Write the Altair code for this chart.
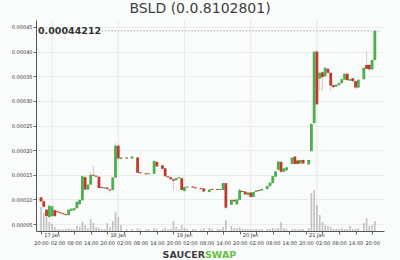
import altair as alt
import pandas as pd

TITLE = "BSLD (0.0.8102801)"
LAST_PRICE = 0.00044212
LAST_LABEL = "0.00044212"

# hours since 16 Jan 20:00 ; prices in units of 1e-5
HOUR = [0, 1, 2, 3, 4, 5, 6, 7, 8, 9, 10, 11, 12, 13, 14, 15, 16, 17, 18, 19,
        20, 21, 22, 23, 24, 25, 26, 27, 28, 29, 31, 33, 35, 36, 38, 39, 41, 42, 44, 45,
        46, 47, 48, 49, 50, 51, 52, 53, 55, 56, 58, 59, 61, 62, 64, 65, 66, 67, 69, 70,
        71, 72, 73, 74, 75, 76, 77, 78, 79, 80, 82, 83, 84, 85, 86, 87, 88, 89, 91, 92,
        93, 94, 95, 97, 98, 99, 100, 101, 102, 103, 104, 105, 106, 107, 108, 109, 110, 111, 112, 113,
        114, 115, 117, 118, 119, 120, 121]
OPEN = [10.4, 9.6, 7.9, 6.4, 6.6, 7.8, 7.6, 7.4, 7.2, 7.0, 6.8, 7.7, 7.8, 8.2, 9.0, 9.8, 14.5, 12.0, 13.0, 15.0,
        14.8, 14.6, 12.5, 12.2, 12.4, 12.0, 11.9, 14.4, 20.9, 18.2, 18.5, 18.3, 18.5, 15.5, 15.3, 15.1, 15.2, 17.6, 16.9, 16.3,
        14.7, 14.5, 14.1, 13.9, 14.3, 14.3, 11.7, 12.4, 12.6, 12.45, 12.3, 12.2, 11.5, 12.1, 12.1, 11.9, 11.9, 13.3, 8.9, 9.9,
        9.0, 9.9, 11.7, 11.6, 10.9, 11.4, 10.5, 11.5, 11.9, 11.8, 12.1, 12.7, 13.3, 14.6, 16.0, 17.6, 15.6, 15.9, 17.2, 18.7,
        17.9, 17.3, 18.0, 17.1, 19.8, 25.5, 40.0, 34.5, 35.8, 35.0, 36.5, 35.7, 33.2, 32.9, 33.2, 33.6, 34.3, 35.5, 34.1, 34.6,
        34.0, 32.7, 34.4, 37.3, 37.3, 36.4, 38.3]
HIGH = [10.7, 9.8, 8.1, 9.0, 8.8, 8.0, 7.8, 7.5, 7.3, 7.1, 8.0, 8.2, 8.3, 9.6, 10.0, 15.0, 14.8, 13.2, 15.5, 16.8,
        15.0, 14.7, 12.6, 12.5, 12.5, 12.1, 14.6, 21.5, 21.2, 18.6, 18.6, 18.8, 18.6, 15.6, 15.4, 15.4, 17.9, 17.7, 17.0, 16.4,
        14.8, 14.6, 14.2, 14.4, 14.6, 14.4, 12.6, 12.7, 12.7, 12.5, 12.4, 12.3, 12.1, 12.2, 12.2, 12.1, 13.4, 13.4, 10.0, 10.0,
        10.1, 12.3, 11.8, 11.7, 11.5, 11.5, 11.6, 11.9, 12.0, 12.3, 12.8, 13.5, 14.8, 15.8, 17.8, 17.8, 16.4, 16.6, 18.6, 18.8,
        18.0, 18.1, 18.1, 18.1, 25.5, 40.2, 40.4, 35.9, 36.0, 36.9, 36.7, 35.8, 33.3, 33.4, 33.7, 34.5, 35.6, 35.6, 34.5, 34.7,
        34.1, 34.4, 36.9, 40.0, 37.4, 38.4, 44.3]
LOW = [9.4, 8.3, 6.2, 6.2, 6.4, 6.4, 7.3, 7.1, 6.9, 6.7, 6.7, 7.6, 7.7, 8.1, 8.9, 9.7, 11.8, 11.9, 12.9, 14.7,
       14.5, 12.2, 12.2, 12.1, 12.0, 11.4, 11.8, 14.3, 18.0, 18.1, 18.2, 18.2, 15.3, 15.2, 15.0, 15.0, 15.1, 16.6, 16.1, 14.6,
       14.4, 14.0, 11.8, 13.8, 14.2, 11.8, 11.6, 12.3, 12.3, 12.2, 12.0, 11.5, 11.4, 11.9, 11.9, 11.8, 11.8, 8.0, 8.8, 9.5,
       8.9, 9.8, 11.4, 10.9, 10.8, 10.4, 10.4, 11.4, 11.6, 11.7, 12.0, 12.6, 13.2, 14.5, 15.9, 15.3, 15.5, 15.8, 17.1, 17.1,
       17.1, 17.2, 17.2, 17.0, 19.7, 25.3, 29.2, 32.0, 32.0, 34.8, 35.5, 32.0, 32.5, 32.8, 33.1, 33.5, 34.2, 34.1, 34.0, 33.9,
       32.3, 32.5, 34.3, 36.4, 36.0, 36.2, 38.2]
CLOSE = [9.6, 8.5, 6.6, 8.7, 8.6, 6.6, 7.4, 7.2, 7.0, 6.8, 7.9, 8.1, 8.2, 9.5, 9.9, 14.7, 12.0, 13.0, 15.0, 14.8,
         14.6, 12.3, 12.3, 12.4, 12.1, 11.8, 14.4, 20.9, 18.3, 18.5, 18.3, 18.7, 15.4, 15.3, 15.1, 15.3, 17.8, 16.7, 16.2, 14.7,
         14.5, 14.1, 13.8, 14.3, 14.5, 11.9, 12.5, 12.6, 12.4, 12.25, 12.1, 11.6, 12.0, 11.9, 11.9, 12.1, 13.3, 8.3, 9.9, 9.6,
         10.0, 11.9, 11.5, 11.0, 11.4, 10.5, 11.5, 11.8, 11.7, 12.1, 12.7, 13.4, 14.7, 15.7, 17.7, 15.6, 16.3, 16.5, 18.5, 17.2,
         17.2, 18.0, 17.3, 18.0, 25.3, 40.0, 29.3, 35.7, 34.8, 36.7, 35.7, 33.1, 32.8, 33.3, 33.6, 34.4, 35.5, 34.2, 34.4, 34.0,
         32.7, 34.3, 36.7, 36.5, 36.4, 38.3, 44.212]
VOLUME = [24, 18, 13, 9, 7, 4, 2, 1.5, 1.5, 2, 3, 2, 2, 5, 4, 9, 6, 3, 12, 8,
          4, 3, 2, 2, 8, 4, 10, 19, 14, 6, 2, 2, 3, 1.5, 1.5, 2, 3, 2, 2, 3,
          1.5, 2, 10, 4, 2, 6, 3, 2, 2, 1.5, 1.5, 3, 3, 2, 2, 2, 4, 11, 5, 3,
          3, 4, 2, 2, 2, 2, 1.5, 2, 1.5, 2, 2, 2, 3, 2, 3, 9, 3, 2, 2, 2,
          1.5, 2, 2, 3, 38, 41, 26, 16, 9, 6, 5, 4, 2, 2, 2, 3, 2, 2, 5, 2,
          2, 3, 8, 13, 5, 6, 10]

DAY_HOURS = [4, 28, 52, 76, 100]
DAY_LABELS = ["17 Jan", "18 Jan", "19 Jan", "20 Jan", "21 Jan"]
TICK_HOURS = [0, 6, 12, 18, 24, 30, 36, 42, 48, 54, 60, 66, 72, 78, 84, 90, 96, 102, 108, 114, 120]
TICK_LABELS = ["20:00", "02:00", "08:00", "14:00", "20:00", "02:00", "08:00", "14:00", "20:00", "02:00",
               "08:00", "14:00", "20:00", "02:00", "08:00", "14:00", "20:00", "02:00", "08:00", "14:00", "20:00"]
PRICE_TICKS = [0.00005, 0.0001, 0.00015, 0.0002, 0.00025, 0.0003, 0.00035, 0.0004, 0.00045]

GREEN = "#4cae4c"
RED = "#c0392b"
BG = "#f9fcfa"

df = pd.DataFrame({"h": HOUR, "open": OPEN, "high": HIGH, "low": LOW, "close": CLOSE, "vol": VOLUME})
for c in ["open", "high", "low", "close"]:
    df[c] = df[c] * 1e-5
df["dir"] = ["up" if c >= o else "down" for o, c in zip(df["open"], df["close"])]

days = pd.DataFrame({"h": DAY_HOURS, "label": DAY_LABELS})
last = pd.DataFrame({"p": [LAST_PRICE], "label": [LAST_LABEL]})
one = pd.DataFrame({"a": [0]})

W, H = 348, 211
xs = alt.Scale(domain=[0, 122.5], nice=False, zero=False)
ys = alt.Scale(domain=[0.0000358, 0.0004642], nice=False, zero=False)

label_arr = "[" + ",".join("'%s'" % t for t in TICK_LABELS) + "]"
xaxis = alt.Axis(values=TICK_HOURS, labelExpr=label_arr + "[round(datum.value/6)]",
                 title=None, grid=False, labelFontSize=5, labelColor="#333", tickSize=3,
                 tickColor="#666", domainColor="#555", labelPadding=6, labelFlush=False,
                 labelOverlap=False)
yaxis = alt.Axis(values=PRICE_TICKS, format=".5f", title=None, labelFontSize=5, labelColor="#333",
                 tickSize=3, tickColor="#666", domainColor="#555", labelPadding=1,
                 grid=True, gridColor="#e6e8e7", gridWidth=0.8)


def X(field):
    return alt.X(field, scale=xs, axis=xaxis)


def Y(field):
    return alt.Y(field, scale=ys, axis=yaxis)


vgrid = alt.Chart(days).mark_rule(color="#e3e5e4", strokeWidth=0.8).encode(
    x=X("h:Q"), y=alt.value(0), y2=alt.value(H))
daytext = alt.Chart(days).mark_text(fontSize=5, color="#333", baseline="middle").encode(
    x=X("h:Q"), y=alt.value(H + 3.6), text="label:N")

vol = alt.Chart(df).mark_bar(size=1.6, color="#8a8a8a", opacity=0.5).encode(
    x=X("h:Q"),
    y=alt.Y("vol:Q", scale=alt.Scale(domain=[0, 211], nice=False), axis=None))

wick = alt.Chart(df).mark_rule(color="#c4c4c4", strokeWidth=0.8).encode(
    x=X("h:Q"), y=Y("low:Q"), y2="high:Q")
body = alt.Chart(df).mark_bar(size=2.8).encode(
    x=X("h:Q"), y=Y("open:Q"), y2="close:Q",
    color=alt.Color("dir:N", scale=alt.Scale(domain=["up", "down"], range=[GREEN, RED]), legend=None))
lastrule = alt.Chart(last).mark_rule(color="#9a9a9a", strokeWidth=1, strokeDash=[1.2, 2]).encode(
    y=Y("p:Q"), x=alt.value(66), x2=alt.value(W - 3))
lasttext = alt.Chart(last).mark_text(fontSize=9.5, fontWeight="bold", color="#333",
                                     align="left", baseline="middle").encode(
    y=Y("p:Q"), x=alt.value(2), text="label:N")
price = alt.layer(wick, body, lastrule, lasttext)

saucer = alt.Chart(one).mark_text(text="SAUCER", fontSize=9.5, fontWeight="bold", color="#3d3d3d",
                                  align="right", baseline="middle").encode(
    x=alt.value(169), y=alt.value(H + 24))
swap = alt.Chart(one).mark_text(text="SWAP", fontSize=9.5, fontWeight="bold", color="#62c23f",
                                align="left", baseline="middle").encode(
    x=alt.value(169), y=alt.value(H + 24))

chart = alt.layer(vgrid, vol, price, daytext, saucer, swap).resolve_scale(y="independent").properties(
    width=W, height=H,
    title=alt.TitleParams(TITLE, fontSize=14, font="DejaVu Sans", fontWeight="normal", color="#404040",
                          anchor="middle", frame="group", dx=-10, offset=4),
    autosize=alt.AutoSizeParams(type="none"),
    padding={"left": 36, "top": 20, "right": 16, "bottom": 29},
    background=BG,
).configure(font="DejaVu Sans").configure_view(stroke=None)

chart.save("out.html", embed_options={"renderer": "svg", "actions": False})
